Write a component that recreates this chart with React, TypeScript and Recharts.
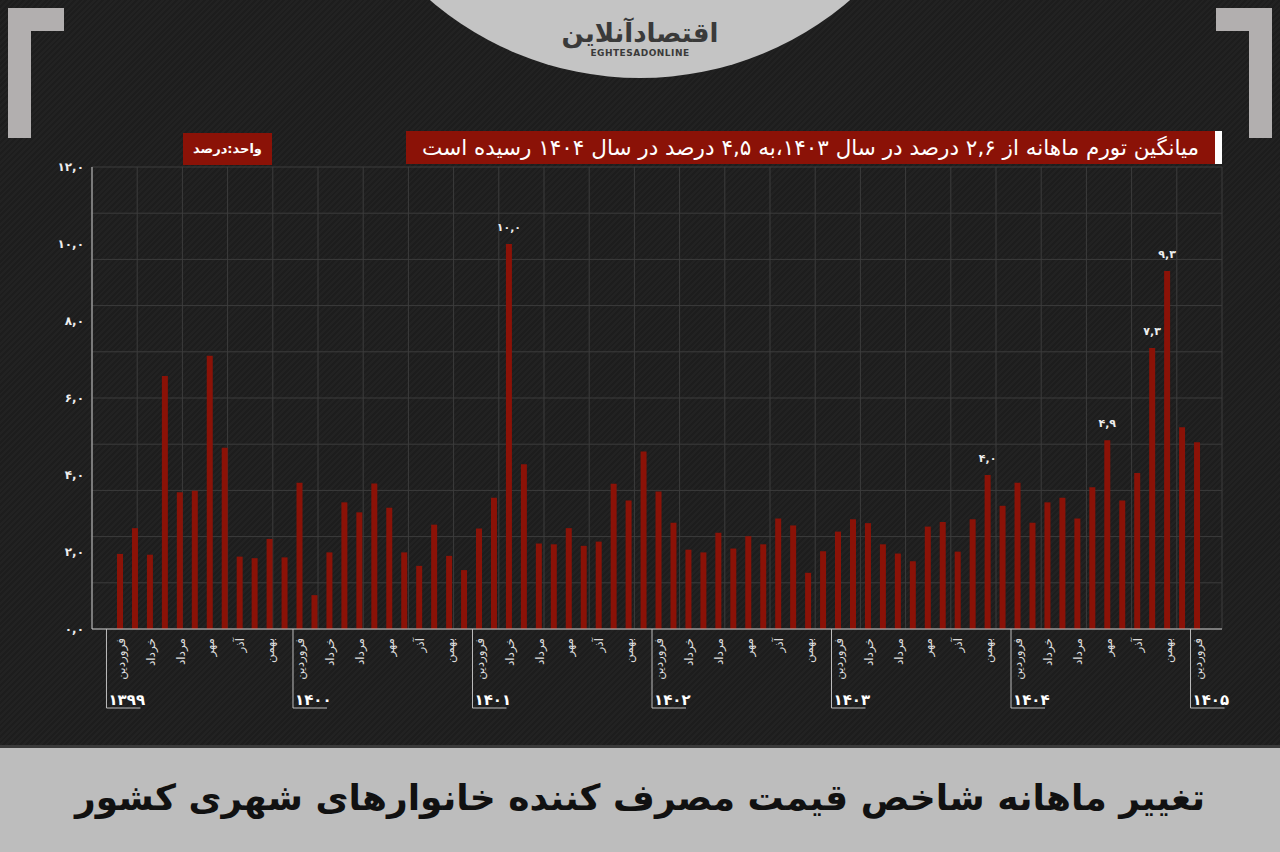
import React from "react";
import {
  BarChart,
  Bar,
  XAxis,
  YAxis,
  CartesianGrid,
  LabelList,
} from "recharts";

const months = [
  "فروردین",
  "اردیبهشت",
  "خرداد",
  "تیر",
  "مرداد",
  "شهریور",
  "مهر",
  "آبان",
  "آذر",
  "دی",
  "بهمن",
  "اسفند",
];
const years = ["1399", "1400", "1401", "1402", "1403", "1404", "1405"];

// monthly CPI change (%), one array per year
const v1399 = [1.95, 2.62, 1.93, 6.57, 3.55, 3.59, 7.1, 4.71, 1.88, 1.84, 2.34, 1.86];
const v1400 = [3.8, 0.88, 1.99, 3.29, 3.03, 3.78, 3.15, 1.99, 1.64, 2.71, 1.9, 1.53];
const v1401 = [2.61, 3.41, 10.0, 4.28, 2.22, 2.2, 2.62, 2.16, 2.27, 3.77, 3.34, 4.61];
const v1402 = [3.57, 2.76, 2.06, 1.99, 2.5, 2.09, 2.41, 2.2, 2.87, 2.69, 1.46, 2.02];
const v1403 = [2.53, 2.85, 2.75, 2.2, 1.96, 1.76, 2.66, 2.78, 2.01, 2.85, 4.0, 3.2];
const v1404 = [3.8, 2.76, 3.29, 3.41, 2.87, 3.68, 4.9, 3.34, 4.05, 7.3, 9.3, 5.24];
const v1405 = [4.85];

// bars that carry a value label
const labelled = ["1401-3", "1403-11", "1404-7", "1404-10", "1404-11"];

const yTicks = [0, 2, 4, 6, 8, 10, 12];
const gridY = [0, 1.2, 2.4, 3.6, 4.8, 6, 7.2, 8.4, 9.6, 10.8, 12];
const GRID_COLS = 25;

const RED = "#8b1207";
const FONT = "'DejaVu Sans', sans-serif";

const fa = (s: string) => s.replace(/[0-9]/g, (d) => "۰۱۲۳۴۵۶۷۸۹"[+d]);
const fmt = (v: number) => fa(v.toFixed(1)).replace(".", ",");

const series = [v1399, v1400, v1401, v1402, v1403, v1404, v1405];
const data = series.flatMap((vals, yi) =>
  vals.map((v, mi) => {
    const key = `${years[yi]}-${mi + 1}`;
    return { key, value: v, note: labelled.includes(key) };
  })
);

// background grid columns are not tied to the months
const gridCols = ({ offset }: any) =>
  Array.from({ length: GRID_COLS + 1 }, (_, i) => offset.left + (i * offset.width) / GRID_COLS);

const MonthTick = (props: any) => {
  const { x, y, payload, index } = props;
  const [yr, m] = String(payload.value).split("-");
  const mi = Number(m) - 1;
  const sx = index === 0 ? x - 14 : x - 7;
  return (
    <g>
      {mi % 2 === 0 && (
        <text
          x={x}
          y={y + 9}
          dy="0.35em"
          transform={`rotate(-90 ${x} ${y + 9})`}
          textAnchor="end"
          fill="#dcdcdc"
          fontSize={12}
          fontFamily={FONT}
        >
          {months[mi]}
        </text>
      )}
      {mi === 0 && (
        <g>
          <line x1={sx} x2={sx} y1={y} y2={y + 79} stroke="#bdbdbd" />
          <line x1={sx} x2={sx + 34} y1={y + 79} y2={y + 79} stroke="#bdbdbd" />
          <text
            x={sx + 2}
            y={y + 76}
            fill="#fff"
            fontSize={15}
            fontWeight="bold"
            fontFamily={FONT}
          >
            {fa(yr)}
          </text>
        </g>
      )}
    </g>
  );
};

const NoteLabel = (props: any) => {
  const { x, y, width, value, index } = props;
  if (!data[index]?.note) return null;
  return (
    <text
      x={x + width / 2}
      y={y - 13}
      textAnchor="middle"
      fill="#eee"
      fontSize={11}
      fontWeight="bold"
      fontFamily={FONT}
    >
      {fmt(value)}
    </text>
  );
};

export default function App() {
  return (
    <div
      style={{
        position: "absolute",
        left: 0,
        top: 0,
        width: 1280,
        height: 852,
        overflow: "hidden",
        fontFamily: FONT,
        background:
          "repeating-linear-gradient(135deg, #1d1d1d 0px, #1d1d1d 2px, #222 2px, #222 4px)",
      }}
    >
      {/* logo disc */}
      <div
        style={{
          position: "absolute",
          left: 318,
          top: -566,
          width: 644,
          height: 644,
          borderRadius: "50%",
          background: "#c4c4c4",
        }}
      />
      <div
        style={{
          position: "absolute",
          left: 560,
          top: 18,
          width: 160,
          height: 50,
          color: "#3a3a3a",
          textAlign: "center",
        }}
      >
        <div style={{ fontSize: 26, fontWeight: "bold", lineHeight: "30px" }}>
          اقتصادآنلاین
        </div>
        <div style={{ fontSize: 9, fontWeight: "bold", letterSpacing: 0.5 }}>
          EGHTESADONLINE
        </div>
      </div>

      {/* corner brackets */}
      <div style={{ position: "absolute", left: 8, top: 8, width: 56, height: 23, background: "#b2afaf" }} />
      <div style={{ position: "absolute", left: 8, top: 8, width: 23, height: 130, background: "#b2afaf" }} />
      <div style={{ position: "absolute", left: 1216, top: 8, width: 56, height: 23, background: "#b2afaf" }} />
      <div style={{ position: "absolute", left: 1249, top: 8, width: 23, height: 130, background: "#b2afaf" }} />

      {/* unit badge */}
      <div
        style={{
          position: "absolute",
          left: 183,
          top: 133,
          width: 89,
          height: 32,
          background: RED,
          color: "#fff",
          fontSize: 13,
          fontWeight: "bold",
          lineHeight: "32px",
          textAlign: "center",
          direction: "rtl",
        }}
      >
        واحد:درصد
      </div>

      {/* subtitle */}
      <div
        style={{
          position: "absolute",
          left: 406,
          top: 131,
          width: 809,
          height: 33,
          background: RED,
          borderRight: "7px solid #fff",
          color: "#fff",
          fontSize: 21.5,
          lineHeight: "33px",
          textAlign: "center",
          whiteSpace: "nowrap",
          direction: "rtl",
        }}
      >
        میانگین تورم ماهانه از ۲,۶ درصد در سال ۱۴۰۳،به ۴,۵ درصد در سال ۱۴۰۴ رسیده است
      </div>

      <div style={{ position: "absolute", left: 0, top: 0 }}>
        <BarChart
          width={1280}
          height={852}
          data={data}
          margin={{ top: 167, right: 58, bottom: 133, left: 32 }}
        >
          <CartesianGrid
            stroke="#3c3c3c"
            horizontalValues={gridY}
            verticalCoordinatesGenerator={gridCols}
          />
          <XAxis
            dataKey="key"
            interval={0}
            height={90}
            padding={{ left: 21, right: 17 }}
            tickSize={0}
            tickMargin={0}
            tickLine={false}
            axisLine={{ stroke: "#c8c8c8" }}
            tick={<MonthTick />}
          />
          <YAxis
            width={60}
            domain={[0, 12]}
            ticks={yTicks}
            tickFormatter={fmt}
            tickLine={false}
            axisLine={{ stroke: "#c8c8c8" }}
            tick={{ fill: "#eee", fontSize: 12, fontWeight: "bold", fontFamily: FONT }}
          />
          <Bar dataKey="value" fill={RED} barSize={6} isAnimationActive={false}>
            <LabelList dataKey="value" content={<NoteLabel />} />
          </Bar>
        </BarChart>
      </div>

      {/* bottom title band */}
      <div
        style={{
          position: "absolute",
          left: 0,
          top: 745,
          width: 1280,
          height: 107,
          borderTop: "3px solid #3a3a3a",
          background: "#bdbdbd",
          color: "#111",
          fontSize: 36,
          fontWeight: "bold",
          textAlign: "center",
          lineHeight: "100px",
          direction: "rtl",
          whiteSpace: "nowrap",
        }}
      >
        تغییر ماهانه شاخص قیمت مصرف کننده خانوارهای شهری کشور
      </div>
    </div>
  );
}
